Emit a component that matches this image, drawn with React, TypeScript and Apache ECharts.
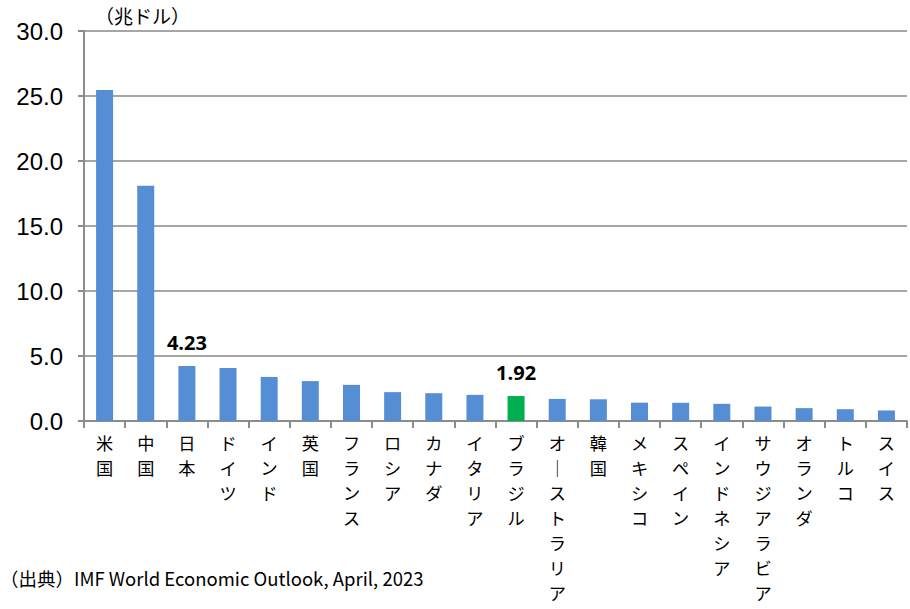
import React, { useEffect, useRef } from "react";
import * as echarts from "echarts";

const countries = [
  "米国", "中国", "日本", "ドイツ", "インド", "英国", "フランス", "ロシア", "カナダ", "イタリア",
  "ブラジル", "オーストラリア", "韓国", "メキシコ", "スペイン", "インドネシア", "サウジアラビア", "オランダ", "トルコ", "スイス",
];
const gdp = [25.46, 18.1, 4.23, 4.07, 3.39, 3.07, 2.78, 2.22, 2.14, 2.01, 1.92, 1.7, 1.67, 1.41, 1.4, 1.32, 1.11, 0.99, 0.91, 0.81];
const labeled = ["日本", "ブラジル"];
const highlight = "ブラジル";
const yTicks = { min: 0, max: 30, interval: 5 };
const unitText = "（兆ドル）";
const sourceText = "（出典）IMF World Economic Outlook, April, 2023";

const JP = "'Noto Sans CJK JP', 'Noto Sans', sans-serif";

export default function App() {
  const ref = useRef<HTMLDivElement>(null);
  useEffect(() => {
    if (!ref.current) return;
    const chart = echarts.init(ref.current, null, { renderer: "svg" });
    chart.setOption({
      animation: false,
      backgroundColor: "#ffffff",
      grid: { left: 84, right: 3, top: 31, bottom: 188, containLabel: false, outerBoundsMode: "none" },
      xAxis: {
        type: "category",
        data: countries,
        boundaryGap: true,
        axisLine: { lineStyle: { color: "#8c8c8c", width: 2 } },
        axisTick: { show: true, length: 7, lineStyle: { color: "#8c8c8c", width: 2 } },
        axisLabel: {
          interval: 0,
          margin: 9,
          color: "#000",
          fontFamily: JP,
          fontSize: 17.2,
          lineHeight: 25,
          verticalAlign: "top",
          formatter: (v: string) => v.replace(/ー/g, "｜").split("").join("\n"),
        },
      },
      yAxis: {
        type: "value",
        min: yTicks.min,
        max: yTicks.max,
        interval: yTicks.interval,
        axisLine: { show: true, lineStyle: { color: "#8c8c8c", width: 2 } },
        axisTick: { show: true, length: 6, lineStyle: { color: "#8c8c8c", width: 2 } },
        splitLine: { lineStyle: { color: "#a6a6a6", width: 2 } },
        axisLabel: {
          color: "#000",
          fontFamily: "'Liberation Sans', Arial, sans-serif",
          fontSize: 24,
          margin: 21,
          formatter: (v: number) => v.toFixed(1),
        },
      },
      series: [
        {
          type: "bar",
          barWidth: 17,
          data: countries.map((c, i) => ({
            value: gdp[i],
            itemStyle: { color: c === highlight ? "#00B050" : "#558ED5" },
            label: {
              show: labeled.includes(c),
              position: "top",
              distance: 14,
              formatter: (p: any) => p.value.toFixed(2),
              color: "#000",
              fontWeight: "bold",
              fontSize: 20,
              fontFamily: "'Open Sans', 'Noto Sans', sans-serif",
            },
          })),
        },
      ],
      graphic: [
        {
          type: "text",
          left: 95,
          top: 6,
          style: { text: unitText, font: `19px ${JP}`, fill: "#000" },
        },
        {
          type: "text",
          left: 0,
          top: 569,
          style: { text: sourceText, font: `18.5px ${JP}`, fill: "#000" },
        },
      ],
    });
    return () => chart.dispose();
  }, []);
  return <div ref={ref} style={{ width: 910, height: 609, position: "absolute", left: 0, top: 0 }} />;
}
